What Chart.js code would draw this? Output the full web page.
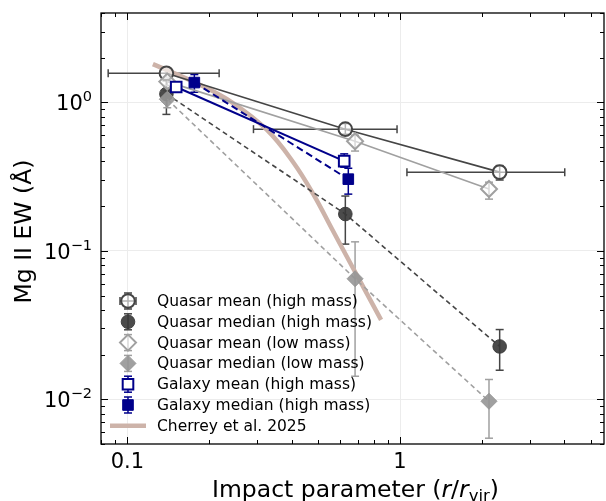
<!DOCTYPE html>
<html>
<head>
<meta charset="utf-8">
<script src="https://cdn.jsdelivr.net/npm/chart.js@4.4.0/dist/chart.umd.min.js"></script>
<style>
  body { margin: 0; background: #fff; }
  #wrap { width: 606px; height: 501px; }
</style>
</head>
<body>
<div id="wrap"><canvas id="ewChart" width="606" height="501"></canvas></div>
<script>
// axis ticks
const xMajor = [0.1, 1];
const xTickLabels = ['0.1', '1'];
const yMajor = [1, 0.1, 0.01];
const yTickExp = ['0', '\u22121', '\u22122'];

// Quasar mean (high mass)
const qMeanHighR = [0.139, 0.63, 2.32];
const qMeanHighEW = [1.57, 0.66, 0.339];
const qMeanHighRLo = [0.085, 0.29, 1.06];
const qMeanHighRHi = [0.217, 0.975, 4.02];
const qMeanHighLo = [1.47, 0.61, 0.30];
const qMeanHighHi = [1.67, 0.72, 0.375];

// Quasar median (high mass)
const qMedHighR = [0.139, 0.63, 2.32];
const qMedHighEW = [1.14, 0.177, 0.0227];
const qMedHighLo = [0.83, 0.111, 0.0157];
const qMedHighHi = [1.4, 0.234, 0.0295];

// Quasar mean (low mass)
const qMeanLowR = [0.14, 0.684, 2.12];
const qMeanLowEW = [1.38, 0.547, 0.261];
const qMeanLowLo = [1.3, 0.47, 0.223];
const qMeanLowHi = [1.46, 0.6, 0.29];

// Quasar median (low mass)
const qMedLowR = [0.14, 0.684, 2.12];
const qMedLowEW = [1.05, 0.0649, 0.0097];
const qMedLowLo = [0.92, 0.0143, 0.00547];
const qMedLowHi = [1.2, 0.115, 0.0136];

// Galaxy mean / median (high mass)
const galMeanR = [0.151, 0.624];
const galMeanEW = [1.27, 0.402];
const galMeanLo = [1.2, 0.366];
const galMeanHi = [1.33, 0.45];
const galMedR = [0.176, 0.646];
const galMedEW = [1.36, 0.304];
const galMedLo = [1.17, 0.241];
const galMedHi = [1.54, 0.36];

// Cherrey et al. 2025 curve
const cherreyR = [0.124, 0.185, 0.244, 0.325, 0.405, 0.48, 0.568, 0.672, 0.852];
const cherreyEW = [1.81, 1.31, 0.99, 0.652, 0.397, 0.242, 0.136, 0.0767, 0.0343];

const FONT = "'DejaVu Sans', sans-serif";
const DARK = '#454545';
const LIGHT = '#a0a0a0';
const NAVY = '#00008b';
const TAN = '#cdb3a9';

function pts(xs, ys) {
  return xs.map((x, i) => ({ x: x, y: ys[i] }));
}

function marker(ctx, style, x, y, r, fill, stroke, lw) {
  ctx.save();
  ctx.beginPath();
  if (style === 'circle') {
    ctx.arc(x, y, r, 0, Math.PI * 2);
  } else if (style === 'rectRot') {
    ctx.moveTo(x, y - r); ctx.lineTo(x + r, y); ctx.lineTo(x, y + r); ctx.lineTo(x - r, y);
    ctx.closePath();
  } else {
    const s = r * Math.SQRT1_2;
    ctx.rect(x - s, y - s, 2 * s, 2 * s);
  }
  ctx.fillStyle = fill;
  ctx.fill();
  ctx.lineWidth = lw;
  ctx.strokeStyle = stroke;
  ctx.stroke();
  ctx.restore();
}

function seg(ctx, x1, y1, x2, y2) {
  ctx.beginPath(); ctx.moveTo(x1, y1); ctx.lineTo(x2, y2); ctx.stroke();
}

// error bars under the markers
const errorBars = {
  id: 'errorBars',
  beforeDatasetsDraw(chart) {
    const { ctx, scales: { x, y } } = chart;
    chart.data.datasets.forEach(ds => {
      if (!ds.yLo) return;
      ctx.save();
      ctx.strokeStyle = ds.borderColor;
      ctx.lineWidth = 1.5;
      ds.data.forEach((p, i) => {
        const px = x.getPixelForValue(p.x);
        const py = y.getPixelForValue(p.y);
        const y1 = y.getPixelForValue(ds.yLo[i]);
        const y2 = y.getPixelForValue(ds.yHi[i]);
        seg(ctx, px, y1, px, y2);
        seg(ctx, px - 4, y1, px + 4, y1);
        seg(ctx, px - 4, y2, px + 4, y2);
        if (ds.xLo) {
          const x1 = x.getPixelForValue(ds.xLo[i]);
          const x2 = x.getPixelForValue(ds.xHi[i]);
          seg(ctx, x1, py, x2, py);
          seg(ctx, x1, py - 4, x1, py + 4);
          seg(ctx, x2, py - 4, x2, py + 4);
        }
      });
      ctx.restore();
    });
  }
};

// frame, inward ticks, tick labels, axis titles, legend
const decor = {
  id: 'decor',
  afterDraw(chart) {
    const { ctx, chartArea: a, scales: { x, y } } = chart;
    ctx.save();
    ctx.strokeStyle = '#000';
    ctx.fillStyle = '#000';

    // ticks
    ctx.lineWidth = 1;
    for (let d = 0.001; d < 100; d *= 10) {
      for (let k = 1; k < 10; k++) {
        const v = d * k;
        const len = k === 1 ? 7 : 4;
        if (v >= x.min && v <= x.max) {
          const px = Math.round(x.getPixelForValue(v)) + 0.5;
          seg(ctx, px, a.bottom, px, a.bottom - len);
          seg(ctx, px, a.top, px, a.top + len);
        }
        if (v >= y.min && v <= y.max) {
          const py = Math.round(y.getPixelForValue(v)) + 0.5;
          seg(ctx, a.left, py, a.left + len, py);
          seg(ctx, a.right, py, a.right - len, py);
        }
      }
    }

    // frame
    ctx.lineWidth = 1.3;
    ctx.strokeRect(a.left, a.top, a.right - a.left, a.bottom - a.top);

    // x tick labels
    ctx.font = '21px ' + FONT;
    ctx.textAlign = 'center';
    ctx.textBaseline = 'alphabetic';
    xMajor.forEach((v, i) => {
      ctx.fillText(xTickLabels[i], x.getPixelForValue(v), 468);
    });

    // y tick labels 10^n
    yMajor.forEach((v, i) => {
      const py = y.getPixelForValue(v);
      ctx.font = '14.5px ' + FONT;
      const ew = ctx.measureText(yTickExp[i]).width;
      const right = 92;
      ctx.textAlign = 'left';
      ctx.fillText(yTickExp[i], right - ew, py - 1);
      ctx.font = '21px ' + FONT;
      ctx.textAlign = 'right';
      ctx.fillText('10', right - ew, py + 8);
    });

    // x axis title
    const parts = [
      ['Impact parameter (', '23.5px ' + FONT, 0],
      ['r', 'italic 23.5px ' + FONT, 0],
      ['/', '23.5px ' + FONT, 0],
      ['r', 'italic 23.5px ' + FONT, 0],
      ['vir', '16.5px ' + FONT, 4],
      [')', '23.5px ' + FONT, 0]
    ];
    let total = 0;
    parts.forEach(p => { ctx.font = p[1]; total += ctx.measureText(p[0]).width; });
    let cx = (a.left + a.right) / 2 - total / 2 + 3;
    ctx.textAlign = 'left';
    parts.forEach(p => {
      ctx.font = p[1];
      ctx.fillText(p[0], cx, 497 + p[2]);
      cx += ctx.measureText(p[0]).width;
    });

    // y axis title
    ctx.save();
    ctx.translate(31, (a.top + a.bottom) / 2 + 3);
    ctx.rotate(-Math.PI / 2);
    ctx.font = '23.5px ' + FONT;
    ctx.textAlign = 'center';
    ctx.fillText('Mg II EW (\u00c5)', 0, 0);
    ctx.restore();

    // legend
    const rows = chart.data.datasets.filter(ds => ds.legendRow !== undefined)
      .sort((p, q) => p.legendRow - q.legendRow);
    const mx = 128;
    ctx.font = '15.5px ' + FONT;
    ctx.textBaseline = 'middle';
    ctx.textAlign = 'left';
    rows.forEach((ds, i) => {
      const ry = 301 + i * 20.8;
      if (ds.pointRadius === 0) {
        ctx.save();
        ctx.strokeStyle = ds.borderColor;
        ctx.lineWidth = ds.borderWidth;
        seg(ctx, 110, ry, 146, ry);
        ctx.restore();
      } else {
        ctx.save();
        ctx.strokeStyle = ds.borderColor;
        ctx.lineWidth = 1.5;
        seg(ctx, mx, ry - 8, mx, ry + 8);
        seg(ctx, mx - 4, ry - 8, mx + 4, ry - 8);
        seg(ctx, mx - 4, ry + 8, mx + 4, ry + 8);
        if (ds.xLo) {
          seg(ctx, mx - 8, ry, mx + 8, ry);
          seg(ctx, mx - 8, ry - 4, mx - 8, ry + 4);
          seg(ctx, mx + 8, ry - 4, mx + 8, ry + 4);
        }
        ctx.restore();
        marker(ctx, ds.pointStyle, mx, ry, ds.pointRadius, ds.pointBackgroundColor,
          ds.pointBorderColor, ds.pointBorderWidth);
      }
      ctx.fillStyle = '#000';
      ctx.fillText(ds.label, 157, ry + 1);
    });
    ctx.restore();
  }
};

const ctx = document.getElementById('ewChart');
new Chart(ctx, {
  type: 'scatter',
  data: {
    datasets: [
      {
        label: 'Cherrey et al. 2025',
        data: pts(cherreyR, cherreyEW),
        showLine: true,
        borderColor: TAN,
        borderWidth: 4.5,
        pointRadius: 0,
        tension: 0.4,
        order: 7,
        legendRow: 6
      },
      {
        label: 'Quasar mean (high mass)',
        data: pts(qMeanHighR, qMeanHighEW),
        showLine: true,
        borderColor: DARK,
        borderWidth: 1.6,
        pointStyle: 'circle',
        pointRadius: 6.8,
        pointBackgroundColor: 'rgba(255,255,255,0.6)',
        pointBorderColor: DARK,
        pointBorderWidth: 2,
        yLo: qMeanHighLo, yHi: qMeanHighHi,
        xLo: qMeanHighRLo, xHi: qMeanHighRHi,
        order: 6,
        legendRow: 0
      },
      {
        label: 'Quasar median (high mass)',
        data: pts(qMedHighR, qMedHighEW),
        showLine: true,
        borderColor: DARK,
        borderWidth: 1.6,
        borderDash: [5, 3.5],
        pointStyle: 'circle',
        pointRadius: 6.8,
        pointBackgroundColor: 'rgba(55,55,55,0.9)',
        pointBorderColor: 'rgba(55,55,55,0.9)',
        pointBorderWidth: 1,
        yLo: qMedHighLo, yHi: qMedHighHi,
        order: 5,
        legendRow: 1
      },
      {
        label: 'Quasar mean (low mass)',
        data: pts(qMeanLowR, qMeanLowEW),
        showLine: true,
        borderColor: LIGHT,
        borderWidth: 1.6,
        pointStyle: 'rectRot',
        pointRadius: 8,
        pointBackgroundColor: 'rgba(255,255,255,0.6)',
        pointBorderColor: LIGHT,
        pointBorderWidth: 2,
        yLo: qMeanLowLo, yHi: qMeanLowHi,
        order: 4,
        legendRow: 2
      },
      {
        label: 'Quasar median (low mass)',
        data: pts(qMedLowR, qMedLowEW),
        showLine: true,
        borderColor: LIGHT,
        borderWidth: 1.6,
        borderDash: [5, 3.5],
        pointStyle: 'rectRot',
        pointRadius: 8,
        pointBackgroundColor: 'rgba(150,150,150,0.9)',
        pointBorderColor: 'rgba(150,150,150,0.9)',
        pointBorderWidth: 1,
        yLo: qMedLowLo, yHi: qMedLowHi,
        order: 3,
        legendRow: 3
      },
      {
        label: 'Galaxy mean (high mass)',
        data: pts(galMeanR, galMeanEW),
        showLine: true,
        borderColor: NAVY,
        borderWidth: 2,
        pointStyle: 'rect',
        pointRadius: 7.5,
        pointBackgroundColor: '#fff',
        pointBorderColor: NAVY,
        pointBorderWidth: 2,
        yLo: galMeanLo, yHi: galMeanHi,
        order: 2,
        legendRow: 4
      },
      {
        label: 'Galaxy median (high mass)',
        data: pts(galMedR, galMedEW),
        showLine: true,
        borderColor: NAVY,
        borderWidth: 2,
        borderDash: [7, 4],
        pointStyle: 'rect',
        pointRadius: 7.5,
        pointBackgroundColor: NAVY,
        pointBorderColor: NAVY,
        pointBorderWidth: 1,
        yLo: galMedLo, yHi: galMedHi,
        order: 1,
        legendRow: 5
      }
    ]
  },
  options: {
    responsive: false,
    animation: false,
    layout: { autoPadding: false, padding: { top: 13, right: 2, left: 0, bottom: 0 } },
    plugins: {
      legend: { display: false },
      tooltip: { enabled: false }
    },
    scales: {
      x: {
        type: 'logarithmic',
        min: 0.08,
        max: 5.6,
        afterBuildTicks: axis => { axis.ticks = xMajor.map(v => ({ value: v })); },
        afterFit: axis => { axis.height = 57; },
        border: { display: false },
        grid: { color: '#ececec', drawTicks: false },
        ticks: { display: false }
      },
      y: {
        type: 'logarithmic',
        min: 0.005,
        max: 4,
        afterBuildTicks: axis => { axis.ticks = yMajor.map(v => ({ value: v })); },
        afterFit: axis => { axis.width = 101; },
        border: { display: false },
        grid: { color: '#ececec', drawTicks: false },
        ticks: { display: false }
      }
    }
  },
  plugins: [errorBars, decor]
});
</script>
</body>
</html>
